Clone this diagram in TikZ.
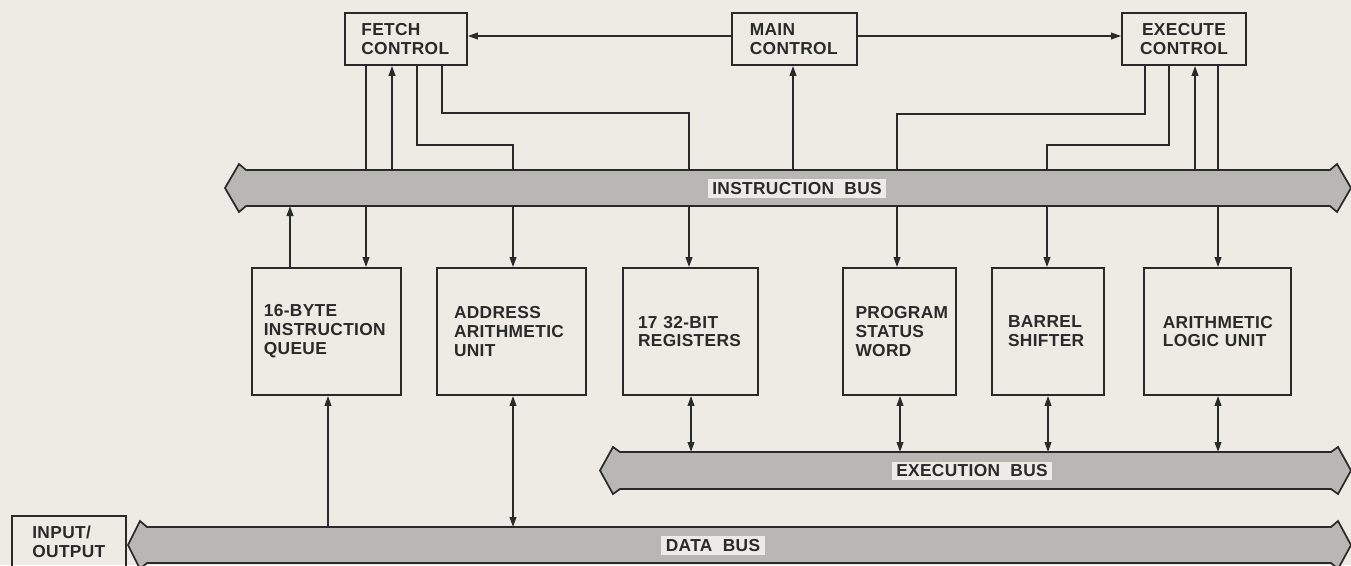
\documentclass[tikz,border=0pt]{standalone}
\usepackage{fontspec}
\setmainfont{Liberation Sans}
\usetikzlibrary{arrows.meta}
\definecolor{paper}{HTML}{EEEBE5}
\definecolor{ink}{HTML}{2A2A2A}
\definecolor{busgray}{HTML}{B8B7B3}
\definecolor{labelbg}{HTML}{EDEBE6}
\begin{document}
\begin{tikzpicture}[x=0.75pt,y=-0.75pt,
  txt/.style={font=\fontsize{13}{14.2}\selectfont\bfseries\addfontfeature{LetterSpace=2}, text=ink},
  blk/.style={txt, draw=ink, line width=1.35pt, inner sep=0pt, align=left, minimum height=39pt},
  tall/.style={blk, minimum height=95.25pt},
  conn/.style={draw=ink, line width=1.3pt},
  arr/.style={conn, -{Triangle[length=7.5pt,width=5pt]}},
  darr/.style={conn, {Triangle[length=7.5pt,width=5pt]}-{Triangle[length=7.5pt,width=5pt]}},
  bus/.style={draw=ink, line width=1.3pt, fill=busgray, line join=miter},
  buslabel/.style={txt, fill=labelbg, inner xsep=3.5pt, inner ysep=2.5pt}
]
\clip (0,0) rectangle (1351,565);
\fill[paper] (0,0) rectangle (1351,565);

% buses
\path[bus] (225,188) -- (239,164) -- (246,170) -- (1330,170) -- (1337,164) -- (1351,188) -- (1337,212) -- (1330,206) -- (246,206) -- (239,212) -- cycle;
\path[bus] (600,470.5) -- (613,447) -- (620,452) -- (1331,452) -- (1338,447) -- (1351,470.5) -- (1338,494) -- (1331,489) -- (620,489) -- (613,494) -- cycle;
\path[bus] (128,545) -- (140,521) -- (147,527) -- (1331,527) -- (1338,521) -- (1351,545) -- (1338,569) -- (1331,563) -- (147,563) -- (140,569) -- cycle;
\coordinate (ibT) at (0,170);
\coordinate (ibB) at (0,206);
\coordinate (ebT) at (0,452);
\coordinate (dbT) at (0,527);
\node[buslabel] (iblabel) at (797,188.5) {INSTRUCTION\ \ BUS};
\node[buslabel] (eblabel) at (972,471) {EXECUTION\ \ BUS};
\node[buslabel] (dblabel) at (713,545.5) {DATA\ \ BUS};

% control boxes
\node[blk, minimum width=91.5pt, text width=67pt] (fetch) at (406,39) {FETCH\\CONTROL};
\node[blk, minimum width=93.75pt, text width=67pt] (main) at (794.5,39) {MAIN\\CONTROL};
\node[blk, minimum width=93pt, text width=75pt, align=center] (exec) at (1184,39) {EXECUTE\\CONTROL};

% unit boxes
\node[tall, minimum width=111.75pt, text width=94pt] (queue) at (326.5,331.5) {16-BYTE\\INSTRUCTION\\QUEUE};
\node[tall, minimum width=111.75pt, text width=86.25pt] (addr) at (511.5,331.5) {ADDRESS\\ARITHMETIC\\UNIT};
\node[tall, minimum width=101.25pt, text width=78.75pt] (regs) at (690.5,331.5) {17 32-BIT\\REGISTERS};
\node[tall, minimum width=84.75pt, text width=66pt] (psw) at (899.5,331.5) {PROGRAM\\STATUS\\WORD};
\node[tall, minimum width=84pt, text width=60pt] (barrel) at (1048,331.5) {BARREL\\SHIFTER};
\node[tall, minimum width=110.25pt, text width=82pt] (alu) at (1217.5,331.5) {ARITHMETIC\\LOGIC UNIT};
\node[blk, minimum width=85.5pt, text width=55pt] (io) at (69,542) {INPUT/\\OUTPUT};

% control connections
\draw[arr] ([yshift=2.25pt]main.west) -- ([yshift=2.25pt]fetch.east);
\draw[arr] ([yshift=2.25pt]main.east) -- ([yshift=2.25pt]exec.west);
\draw[arr] (793,0 |- ibT) -- (793,0 |- main.south);

\draw[conn] (366,0 |- fetch.south) -- (366,0 |- ibT);
\draw[arr] (392,0 |- ibT) -- (392,0 |- fetch.south);
\draw[conn] (417,0 |- fetch.south) -- (417,145) -| (513,0 |- ibT);
\draw[conn] (442,0 |- fetch.south) -- (442,113) -| (689,0 |- ibT);

\draw[conn] (1145,0 |- exec.south) -- (1145,114) -| (897,0 |- ibT);
\draw[conn] (1169,0 |- exec.south) -- (1169,145) -| (1047,0 |- ibT);
\draw[arr] (1195,0 |- ibT) -- (1195,0 |- exec.south);
\draw[conn] (1218,0 |- exec.south) -- (1218,0 |- ibT);

% instruction bus to units
\draw[arr] (290,0 |- queue.north) -- (290,0 |- ibB);
\draw[arr] (366,0 |- ibB) -- (366,0 |- queue.north);
\draw[arr] (513,0 |- ibB) -- (513,0 |- addr.north);
\draw[arr] (689,0 |- ibB) -- (689,0 |- regs.north);
\draw[arr] (897,0 |- ibB) -- (897,0 |- psw.north);
\draw[arr] (1047,0 |- ibB) -- (1047,0 |- barrel.north);
\draw[arr] (1218,0 |- ibB) -- (1218,0 |- alu.north);

% execution bus
\draw[darr] (691,0 |- regs.south) -- (691,0 |- ebT);
\draw[darr] (900,0 |- psw.south) -- (900,0 |- ebT);
\draw[darr] (1048,0 |- barrel.south) -- (1048,0 |- ebT);
\draw[darr] (1218,0 |- alu.south) -- (1218,0 |- ebT);

% data bus
\draw[arr] (328,0 |- dbT) -- (328,0 |- queue.south);
\draw[darr] (513,0 |- addr.south) -- (513,0 |- dbT);
\end{tikzpicture}
\end{document}
